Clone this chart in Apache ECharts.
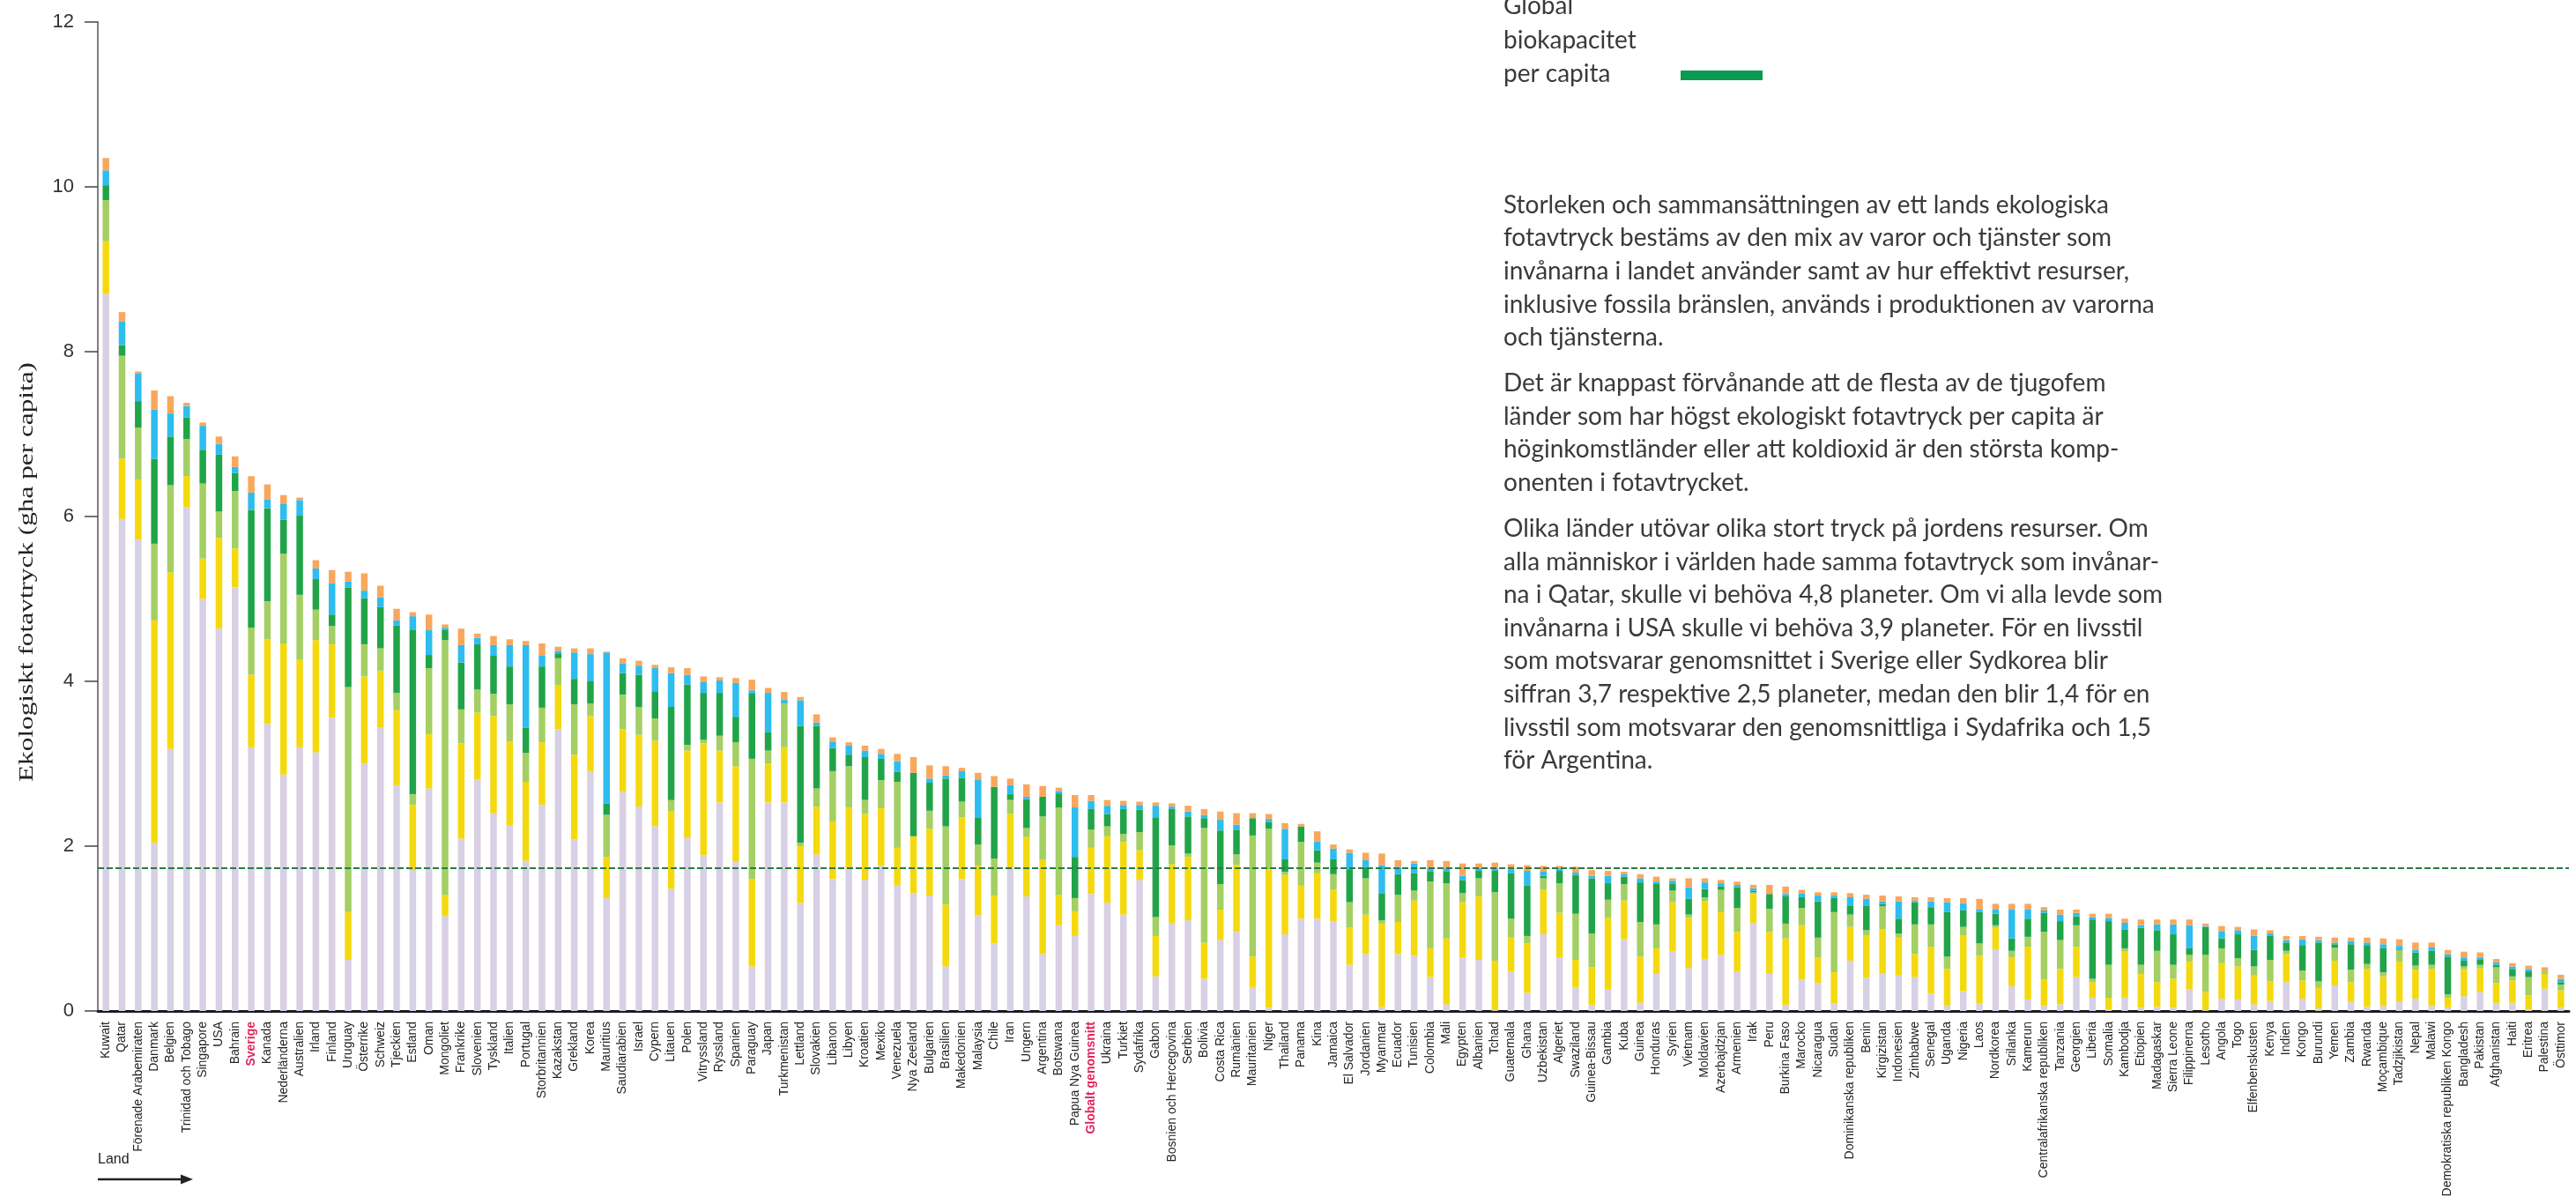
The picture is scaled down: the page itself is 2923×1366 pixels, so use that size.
<!DOCTYPE html>
<html><head><meta charset="utf-8">
<script src="https://cdn.jsdelivr.net/npm/echarts@6/dist/echarts.min.js"></script>
<style>html,body{margin:0;padding:0;background:#fff}#c{width:2923px;height:1366px}</style>
</head><body><div id="c"></div>
<script>
const countries = ["Kuwait","Qatar","Förenade Arabemiraten","Danmark","Belgien","Trinidad och Tobago","Singapore","USA","Bahrain","Sverige","Kanada","Nederländerna","Australien","Irland","Finland","Uruguay","Österrike","Schweiz","Tjeckien","Estland","Oman","Mongoliet","Frankrike","Slovenien","Tyskland","Italien","Portugal","Storbritannien","Kazakstan","Grekland","Korea","Mauritius","Saudiarabien","Israel","Cypern","Litauen","Polen","Vitryssland","Ryssland","Spanien","Paraguay","Japan","Turkmenistan","Lettland","Slovakien","Libanon","Libyen","Kroatien","Mexiko","Venezuela","Nya Zeeland","Bulgarien","Brasilien","Makedonien","Malaysia","Chile","Iran","Ungern","Argentina","Botswana","Papua Nya Guinea","Globalt genomsnitt","Ukraina","Turkiet","Sydafrika","Gabon","Bosnien och Hercegovina","Serbien","Bolivia","Costa Rica","Rumänien","Mauritanien","Niger","Thailand","Panama","Kina","Jamaica","El Salvador","Jordanien","Myanmar","Ecuador","Tunisien","Colombia","Mali","Egypten","Albanien","Tchad","Guatemala","Ghana","Uzbekistan","Algeriet","Swaziland","Guinea-Bissau","Gambia","Kuba","Guinea","Honduras","Syrien","Vietnam","Moldavien","Azerbajdzjan","Armenien","Irak","Peru","Burkina Faso","Marocko","Nicaragua","Sudan","Dominikanska republiken","Benin","Kirgizistan","Indonesien","Zimbabwe","Senegal","Uganda","Nigeria","Laos","Nordkorea","Srilanka","Kamerun","Centralafrikanska republiken","Tanzania","Georgien","Liberia","Somalia","Kambodja","Etiopien","Madagaskar","Sierra Leone","Filippinerna","Lesotho","Angola","Togo","Elfenbenskusten","Kenya","Indien","Kongo","Burundi","Yemen","Zambia","Rwanda","Moçambique","Tadzjikistan","Nepal","Malawi","Demokratiska republiken Kongo","Bangladesh","Pakistan","Afghanistan","Haiti","Eritrea","Palestina","Östtimor"];

const koldioxid = [8.70,5.97,5.72,2.04,3.18,6.11,5.00,4.64,5.14,3.20,3.48,2.87,3.20,3.14,3.56,0.62,3.00,3.44,2.74,1.71,2.70,1.15,2.09,2.81,2.40,2.25,1.82,2.50,3.42,2.08,2.91,1.37,2.66,2.48,2.24,1.48,2.10,1.89,2.53,1.81,0.54,2.53,2.53,1.31,1.90,1.60,1.73,1.59,1.76,1.53,1.43,1.40,0.54,1.60,1.16,0.82,1.74,1.39,0.69,1.04,0.91,1.42,1.31,1.17,1.59,0.42,1.07,1.10,0.39,0.86,0.96,0.29,0.04,0.93,1.12,1.12,1.09,0.56,0.69,0.05,0.69,0.67,0.41,0.08,0.65,0.62,0.01,0.48,0.22,0.93,0.65,0.29,0.07,0.26,0.87,0.10,0.45,0.72,0.52,0.63,0.68,0.48,1.07,0.45,0.07,0.38,0.34,0.09,0.61,0.40,0.46,0.43,0.41,0.21,0.06,0.24,0.09,0.75,0.30,0.14,0.06,0.08,0.41,0.16,0.02,0.16,0.04,0.05,0.04,0.26,0.01,0.15,0.14,0.08,0.12,0.35,0.15,0.03,0.31,0.11,0.05,0.06,0.11,0.15,0.06,0.04,0.18,0.23,0.09,0.10,0.02,0.27,0.04];
const akermark = [0.64,0.73,0.73,2.70,2.14,0.38,0.49,1.10,0.47,0.88,1.03,1.59,1.06,1.36,0.89,0.58,1.06,0.69,0.91,0.79,0.66,0.26,1.16,0.81,1.18,1.02,0.96,0.76,0.53,1.03,0.67,0.50,0.76,0.87,1.04,0.94,1.06,1.36,0.63,1.16,1.06,0.47,0.67,0.69,0.58,0.70,0.74,0.80,0.70,0.45,0.69,0.81,0.75,0.75,0.60,0.58,0.65,0.72,1.15,0.37,0.30,0.56,0.81,0.88,0.36,0.49,0.71,0.77,0.44,0.37,0.81,0.37,1.68,0.72,0.40,0.55,0.38,0.45,0.48,1.01,0.39,0.67,0.35,0.80,0.67,0.77,0.60,0.41,0.60,0.54,0.54,0.33,0.46,0.87,0.47,0.56,0.31,0.60,0.61,0.70,0.52,0.48,0.35,0.51,0.81,0.66,0.31,0.38,0.41,0.52,0.53,0.46,0.28,0.57,0.45,0.68,0.58,0.26,0.35,0.64,0.32,0.43,0.37,0.19,0.14,0.56,0.41,0.30,0.35,0.34,0.22,0.43,0.40,0.35,0.24,0.34,0.22,0.25,0.30,0.24,0.46,0.36,0.49,0.35,0.45,0.12,0.33,0.29,0.25,0.27,0.17,0.18,0.21];
const betesmark = [0.50,1.25,0.63,0.93,1.06,0.45,0.91,0.32,0.70,0.57,0.46,1.09,0.79,0.37,0.22,2.73,0.39,0.27,0.21,0.13,0.80,3.09,0.41,0.28,0.27,0.45,0.35,0.42,0.33,0.61,0.15,0.51,0.42,0.34,0.27,0.14,0.07,0.04,0.18,0.29,1.46,0.16,0.53,0.04,0.22,0.61,0.50,0.17,0.34,0.80,0.00,0.22,0.95,0.19,0.26,0.45,0.17,0.11,0.52,1.06,0.16,0.22,0.12,0.10,0.22,0.23,0.23,0.04,1.39,0.31,0.13,1.47,0.49,0.04,0.53,0.13,0.19,0.31,0.44,0.04,0.33,0.12,0.81,0.67,0.11,0.22,0.83,0.23,0.09,0.14,0.36,0.56,0.41,0.22,0.20,0.42,0.29,0.14,0.04,0.05,0.27,0.29,0.02,0.28,0.18,0.21,0.24,0.73,0.15,0.06,0.28,0.05,0.36,0.27,0.15,0.10,0.15,0.03,0.08,0.12,0.58,0.35,0.26,0.04,0.40,0.04,0.11,0.38,0.17,0.08,0.45,0.18,0.10,0.11,0.26,0.04,0.12,0.08,0.16,0.15,0.06,0.05,0.14,0.05,0.05,0.04,0.03,0.04,0.19,0.05,0.22,0.04,0.07];
const skog = [0.18,0.13,0.32,1.03,0.59,0.26,0.41,0.69,0.22,1.43,1.13,0.41,0.96,0.37,0.14,1.21,0.56,0.50,0.82,1.99,0.16,0.12,0.57,0.55,0.46,0.46,0.31,0.50,0.06,0.31,0.27,0.14,0.26,0.39,0.33,1.13,0.73,0.57,0.52,0.31,0.79,0.22,0.01,1.42,0.76,0.28,0.14,0.52,0.26,0.12,0.77,0.34,0.58,0.29,0.33,0.87,0.07,0.35,0.24,0.17,0.50,0.25,0.15,0.30,0.27,1.21,0.44,0.45,0.12,0.65,0.30,0.21,0.08,0.15,0.19,0.15,0.18,0.40,0.14,0.33,0.25,0.21,0.12,0.14,0.16,0.09,0.26,0.55,0.61,0.03,0.15,0.47,0.67,0.20,0.09,0.48,0.49,0.08,0.19,0.10,0.04,0.25,0.02,0.18,0.33,0.13,0.44,0.17,0.11,0.30,0.03,0.18,0.27,0.21,0.54,0.20,0.38,0.14,0.15,0.22,0.23,0.23,0.11,0.72,0.53,0.23,0.45,0.25,0.37,0.08,0.34,0.12,0.29,0.20,0.29,0.10,0.31,0.47,0.04,0.31,0.23,0.29,0.01,0.16,0.17,0.46,0.07,0.06,0.03,0.09,0.07,0.00,0.03];
const fiskevatten = [0.18,0.29,0.34,0.60,0.28,0.14,0.29,0.13,0.07,0.21,0.11,0.19,0.19,0.13,0.38,0.07,0.09,0.12,0.06,0.17,0.30,0.03,0.21,0.08,0.13,0.26,1.00,0.13,0.03,0.32,0.33,1.83,0.12,0.11,0.28,0.41,0.12,0.13,0.15,0.41,0.04,0.48,0.04,0.31,0.04,0.08,0.11,0.08,0.06,0.13,0.00,0.05,0.04,0.08,0.46,0.00,0.11,0.03,0.00,0.03,0.60,0.10,0.10,0.05,0.06,0.14,0.03,0.06,0.04,0.13,0.06,0.00,0.04,0.37,0.00,0.11,0.13,0.20,0.08,0.34,0.09,0.12,0.04,0.04,0.05,0.03,0.03,0.05,0.18,0.05,0.03,0.03,0.03,0.09,0.03,0.05,0.03,0.04,0.14,0.08,0.04,0.03,0.03,0.00,0.03,0.05,0.07,0.03,0.10,0.08,0.03,0.21,0.02,0.07,0.12,0.09,0.03,0.05,0.35,0.11,0.03,0.08,0.04,0.03,0.04,0.08,0.03,0.07,0.12,0.28,0.01,0.09,0.05,0.17,0.03,0.03,0.07,0.03,0.02,0.04,0.03,0.05,0.04,0.03,0.04,0.03,0.04,0.03,0.03,0.03,0.03,0.00,0.04];
const bebyggdMark = [0.15,0.11,0.02,0.23,0.21,0.04,0.04,0.09,0.13,0.20,0.18,0.11,0.03,0.10,0.16,0.12,0.21,0.14,0.14,0.05,0.19,0.04,0.20,0.05,0.11,0.07,0.05,0.15,0.05,0.05,0.07,0.01,0.06,0.06,0.04,0.07,0.08,0.07,0.04,0.06,0.13,0.06,0.09,0.04,0.10,0.05,0.04,0.06,0.06,0.09,0.19,0.16,0.11,0.04,0.08,0.13,0.08,0.15,0.13,0.04,0.15,0.07,0.07,0.05,0.04,0.04,0.04,0.07,0.07,0.10,0.14,0.06,0.06,0.07,0.03,0.12,0.05,0.04,0.09,0.14,0.08,0.03,0.10,0.09,0.15,0.06,0.07,0.06,0.07,0.07,0.03,0.07,0.07,0.06,0.03,0.05,0.06,0.03,0.11,0.05,0.04,0.04,0.04,0.11,0.09,0.04,0.04,0.04,0.05,0.05,0.07,0.06,0.04,0.05,0.05,0.06,0.13,0.07,0.07,0.07,0.04,0.06,0.04,0.04,0.05,0.05,0.07,0.06,0.06,0.07,0.03,0.06,0.04,0.08,0.04,0.05,0.04,0.04,0.06,0.04,0.06,0.07,0.08,0.09,0.06,0.05,0.07,0.06,0.04,0.04,0.04,0.04,0.05];

const globalBiokapacitet = 1.74;
const markerade = ["Sverige","Globalt genomsnitt"];
const yTicks = [0,2,4,6,8,10,12];

const komponenter = [
  {name:"Koldioxid", data:koldioxid, color:"#d8d0e4"},
  {name:"Åkermark", data:akermark, color:"#f5d90f"},
  {name:"Betesmark", data:betesmark, color:"#a3cf64"},
  {name:"Skog", data:skog, color:"#21a449"},
  {name:"Fiskevatten", data:fiskevatten, color:"#2ebdee"},
  {name:"Bebyggd mark", data:bebyggdMark, color:"#f9a75c"}
];

const chart = echarts.init(document.getElementById('c'));
const series = komponenter.map(k => ({
  name:k.name, type:'bar', stack:'fotavtryck', data:k.data, barWidth:7.5,
  itemStyle:{color:k.color}, animation:false
}));
series.push({
  name:'Global biokapacitet per capita', type:'line', data:[], z:10, animation:false,
  markLine:{silent:true, symbol:'none', label:{show:false},
    lineStyle:{color:'#2a7a48', width:2, type:[7,3]},
    data:[{yAxis:globalBiokapacitet}]}
});

const para1 = "Storleken och sammansättningen av ett lands ekologiska\nfotavtryck bestäms av den mix av varor och tjänster som\ninvånarna i landet använder samt av hur effektivt resurser,\ninklusive fossila bränslen, används i produktionen av varorna\noch tjänsterna.";
const para2 = "Det är knappast förvånande att de flesta av de tjugofem\nländer som har högst ekologiskt fotavtryck per capita är\nhöginkomstländer eller att koldioxid är den största komp-\nonenten i fotavtrycket.";
const para3 = "Olika länder utövar olika stort tryck på jordens resurser. Om\nalla människor i världen hade samma fotavtryck som invånar-\nna i Qatar, skulle vi behöva 4,8 planeter. Om vi alla levde som\ninvånarna i USA skulle vi behöva 3,9 planeter. För en livsstil\nsom motsvarar genomsnittet i Sverige eller Sydkorea blir\nsiffran 3,7 respektive 2,5 planeter, medan den blir 1,4 för en\nlivsstil som motsvarar den genomsnittliga i Sydafrika och 1,5\nför Argentina.";
const bodyFont = '28px Lato';
const txt = (t, x, y) => ({type:'text', x:x, y:y, silent:true,
  style:{text:t, font:bodyFont, fill:'#3a3a3a', lineHeight:37.6, align:'left', verticalAlign:'top'}});

chart.setOption({
  animation:false,
  backgroundColor:'#fff',
  grid:{left:111, right:8, top:25, bottom:219, containLabel:false},
  xAxis:{type:'category', data:countries, boundaryGap:true,
    axisLine:{lineStyle:{color:'#1a1a1a', width:3}},
    axisTick:{show:false},
    axisLabel:{interval:0, rotate:90, margin:12, fontSize:14, fontFamily:'Liberation Sans', color:'#222',
      formatter:v => markerade.includes(v) ? '{hl|' + v + '}' : v,
      rich:{hl:{fontSize:14, fontFamily:'Liberation Sans', fontWeight:'bold', color:'#e2245c'}}}
  },
  yAxis:{type:'value', min:yTicks[0], max:yTicks[yTicks.length-1], interval:2,
    axisLine:{show:true, lineStyle:{color:'#7f7f7f', width:2}},
    axisTick:{show:true, length:15, lineStyle:{color:'#444', width:1.5}},
    axisLabel:{fontSize:22, fontFamily:'Liberation Sans', color:'#333', margin:27},
    splitLine:{show:false}
  },
  series:series,
  graphic:[
    {type:'text', x:31, y:649, rotation:Math.PI/2, scaleX:1.36, scaleY:1, silent:true,
      style:{text:'Ekologiskt fotavtryck (gha per capita)', font:'23px "Liberation Serif"', fill:'#222', align:'center', verticalAlign:'middle'}},
    {type:'text', x:111, y:1316, silent:true,
      style:{text:'Land', font:'16px "Liberation Sans"', fill:'#222', align:'left', verticalAlign:'middle'}},
    {type:'line', silent:true, shape:{x1:111, y1:1338, x2:212, y2:1338}, style:{stroke:'#222', lineWidth:2.5}},
    {type:'polygon', silent:true, shape:{points:[[205,1332.5],[219,1338],[205,1343.5]]}, style:{fill:'#222'}},
    {type:'text', x:1706, y:-12, silent:true,
      style:{text:'Global\nbiokapacitet\nper capita', font:bodyFont, fill:'#3a3a3a', lineHeight:38.5, align:'left', verticalAlign:'top'}},
    {type:'rect', silent:true, shape:{x:1907, y:80, width:93, height:11}, style:{fill:'#0a9a50'}},
    txt(para1, 1706, 213.9),
    txt(para2, 1706, 416.3),
    txt(para3, 1706, 581.2)
  ]
});
</script></body></html>
